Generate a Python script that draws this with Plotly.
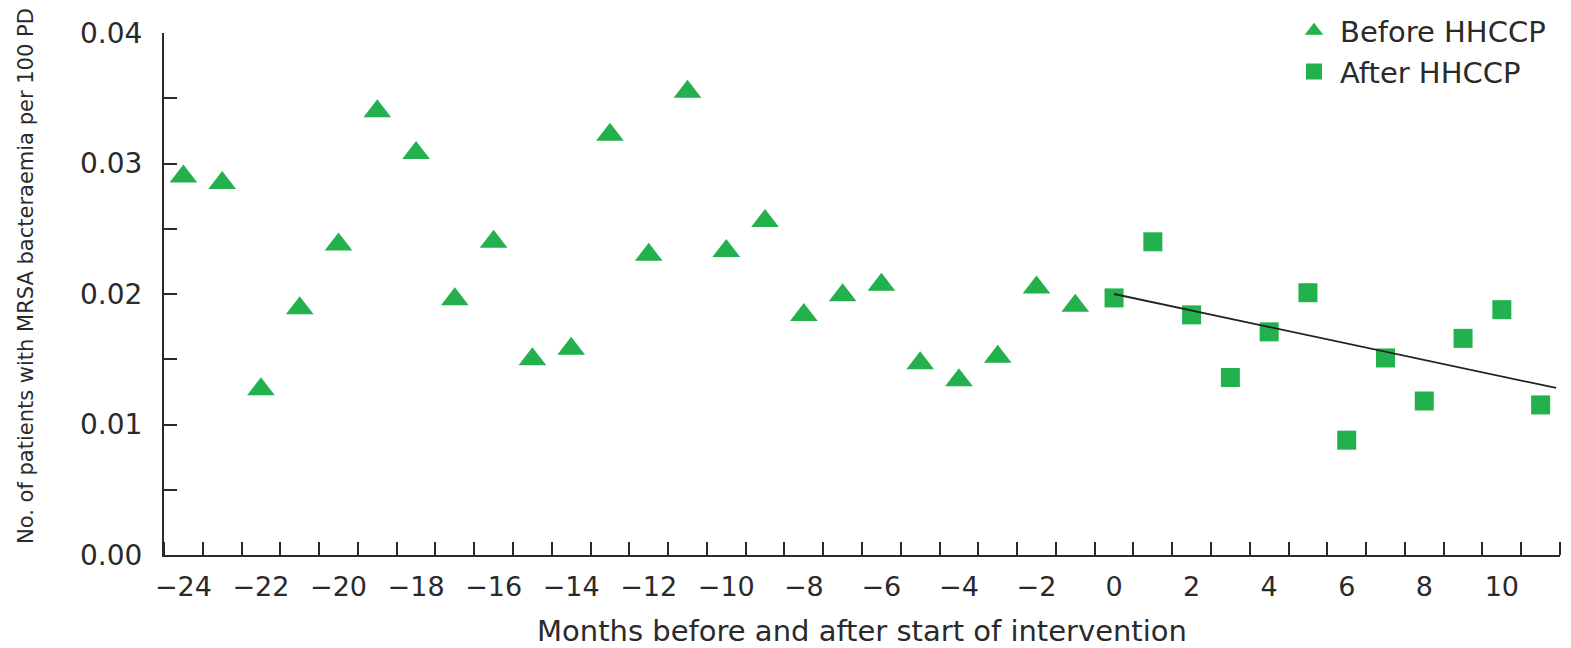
import plotly.graph_objects as go

# Monthly MRSA bacteraemia rates (patients per 100 patient-days)
months_before = list(range(-24, 0))
rate_before = [
    0.0290, 0.0285, 0.0127, 0.0189, 0.0238, 0.0340, 0.0308, 0.0196,
    0.0240, 0.0150, 0.0158, 0.0322, 0.0230, 0.0355, 0.0233, 0.0256,
    0.0184, 0.0199, 0.0207, 0.0147, 0.0134, 0.0152, 0.0205, 0.0191,
]

months_after = list(range(0, 12))
rate_after = [
    0.0197, 0.0240, 0.0184, 0.0136, 0.0171, 0.0201,
    0.0088, 0.0151, 0.0118, 0.0166, 0.0188, 0.0115,
]

# Fitted trend after the intervention started
trend_months = [0.0, 11.4]
trend_rate = [0.0200, 0.0128]

# Axis labelling
x_tick_months = list(range(-24, 11, 2))
x_tick_text = [("\u2212" + str(-m)) if m < 0 else str(m) for m in x_tick_months]
y_tick_vals = [0.00, 0.01, 0.02, 0.03, 0.04]
y_tick_text = ["0.00", "0.01", "0.02", "0.03", "0.04"]

GREEN = "#22B14C"
INK = "#2a2a2a"
FONT = "DejaVu Sans"

fig = go.Figure()

fig.add_trace(go.Scatter(
    x=months_before, y=rate_before, mode="markers", name="Before HHCCP",
    marker=dict(symbol="triangle-up", size=24, color=GREEN, line=dict(width=0)),
))
fig.add_trace(go.Scatter(
    x=months_after, y=rate_after, mode="markers", name="After HHCCP",
    marker=dict(symbol="square", size=19, color=GREEN, line=dict(width=0)),
))
fig.add_trace(go.Scatter(
    x=trend_months, y=trend_rate, mode="lines", showlegend=False,
    line=dict(color="#222222", width=1.8),
))

fig.update_layout(
    width=1571, height=648,
    margin=dict(l=164, r=11, t=33, b=93, autoexpand=False),
    paper_bgcolor="white", plot_bgcolor="white",
    font=dict(family=FONT, color=INK, size=27),
    legend=dict(
        x=(1288 - 164) / 1396, xanchor="left", y=1.053, yanchor="top",
        font=dict(size=29, color=INK), bgcolor="rgba(0,0,0,0)",
        itemwidth=42, tracegroupgap=0,
    ),
    xaxis=dict(
        range=[-24.5, 11.5], tickmode="array", automargin=False,
        tickvals=x_tick_months, ticktext=x_tick_text,
        ticks="", showline=True, linecolor=INK, linewidth=2,
        showgrid=False, zeroline=False, ticklabelstandoff=7,
        tickfont=dict(size=27, color=INK),
        minor=dict(tickmode="linear", tick0=-24.5, dtick=1, ticks="inside",
                   ticklen=13, tickwidth=2, tickcolor=INK, showgrid=False),
        title=dict(text="Months before and after start of intervention",
                   font=dict(size=29, color=INK), standoff=20),
    ),
    yaxis=dict(
        range=[0, 0.04], tickmode="array", automargin=False,
        tickvals=y_tick_vals, ticktext=y_tick_text,
        ticks="inside", ticklen=13, tickwidth=2, tickcolor=INK,
        showline=True, linecolor=INK, linewidth=2,
        showgrid=False, zeroline=False, ticklabelstandoff=14,
        tickfont=dict(size=28, color=INK),
        minor=dict(dtick=0.005, ticks="inside", ticklen=13, tickwidth=2,
                   tickcolor=INK, showgrid=False),
    ),
    annotations=[dict(
        text="No. of patients with MRSA bacteraemia per 100 PD",
        textangle=-90, xref="paper", yref="paper",
        x=(26 - 164) / 1396, y=(555 - 276) / 522,
        xanchor="center", yanchor="middle", showarrow=False,
        font=dict(size=21, color=INK, family=FONT),
    )],
)

fig.write_html("out.html")
